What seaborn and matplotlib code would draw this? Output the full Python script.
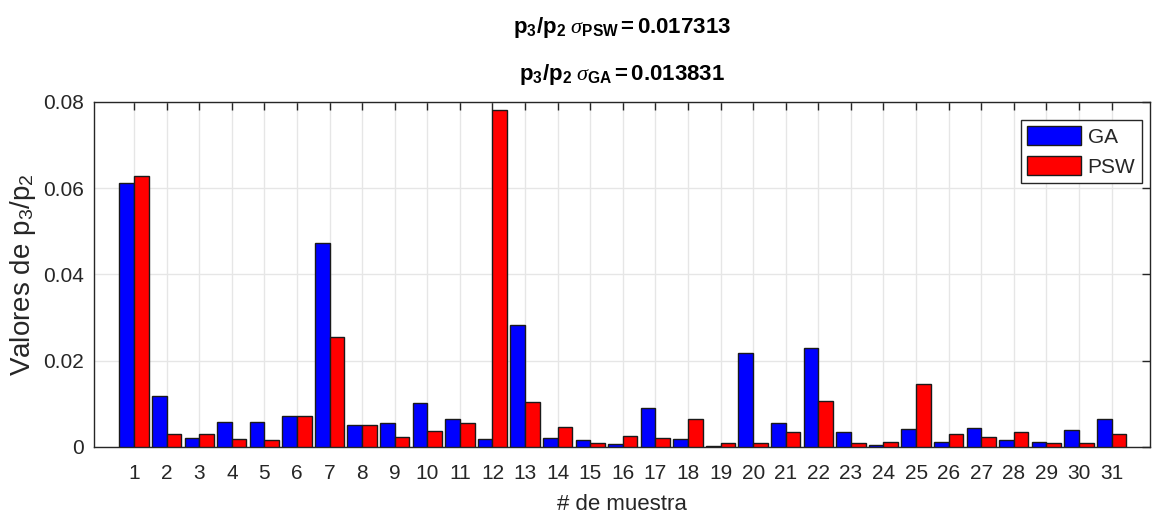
import numpy as np
import pandas as pd
import seaborn as sns
from matplotlib import pyplot as plt

# valores p3/p2
muestras = [str(i) for i in range(1, 32)]
ga_vals = [0.0612, 0.01175, 0.0021, 0.0059, 0.0059, 0.0071, 0.0473, 0.0050, 0.0056, 0.0102,
           0.0064, 0.0018, 0.0283, 0.0021, 0.00155, 0.0007, 0.0090, 0.0018, 0.0002, 0.0217,
           0.0056, 0.0230, 0.0034, 0.0005, 0.0042, 0.00125, 0.0045, 0.00155, 0.00125, 0.0039,
           0.0064]
psw_vals = [0.0629, 0.0029, 0.0029, 0.0018, 0.00155, 0.0071, 0.0254, 0.0050, 0.0023, 0.0037,
            0.0056, 0.0781, 0.0104, 0.0047, 0.0010, 0.0026, 0.0020, 0.0066, 0.0010, 0.0010,
            0.0034, 0.0106, 0.0010, 0.00125, 0.0147, 0.0031, 0.0023, 0.0034, 0.0010, 0.0010,
            0.0029]
metodos = ['GA', 'PSW']
ytick_vals = [0, 0.02, 0.04, 0.06, 0.08]
ytick_labels = ['0', '0.02', '0.04', '0.06', '0.08']
sigma_psw = '0.017313'
sigma_ga = '0.013831'

df = pd.DataFrame({
    'muestra': muestras * 2,
    'metodo': ['GA'] * len(ga_vals) + ['PSW'] * len(psw_vals),
    'valor': ga_vals + psw_vals,
})

sns.set_style('white')
plt.rcParams['font.family'] = ['Liberation Sans', 'DejaVu Sans']
plt.rcParams['mathtext.fontset'] = 'custom'
plt.rcParams['mathtext.rm'] = 'Liberation Sans'
plt.rcParams['mathtext.bf'] = 'Liberation Sans:bold'
plt.rcParams['mathtext.it'] = 'Liberation Serif:italic'

fig, ax = plt.subplots(figsize=(11.52, 5.2), dpi=100)
fig.subplots_adjust(left=0.0816, right=0.998, bottom=0.1404, top=0.8044)

sns.barplot(
    data=df, x='muestra', y='valor', hue='metodo', order=muestras, hue_order=metodos,
    palette={'GA': '#0000ff', 'PSW': '#ff0000'}, width=0.9, edgecolor='#1a1a1a',
    linewidth=1.0, saturation=1, errorbar=None, ax=ax, zorder=3,
)

ax.set_xlim(-1.23, 31.17)
ax.set_ylim(0, 0.08)
ax.set_yticks(ytick_vals)
ax.set_yticklabels(ytick_labels)
ax.grid(True, color='#e6e6e6', linewidth=1.0, zorder=0)
ax.set_axisbelow(True)
ax.tick_params(axis='both', direction='in', labelsize=15, colors='#262626',
               top=True, right=True, length=6, width=1)
ax.tick_params(axis='x', pad=12)
ax.tick_params(axis='y', pad=7)
for sp in ax.spines.values():
    sp.set_visible(True)
    sp.set_color('#262626')
    sp.set_linewidth(1.0)

ax.set_xlabel('# de muestra', fontsize=16, color='#262626')
ax.xaxis.set_label_coords(0.5, -0.136)
ax.set_ylabel(r'Valores de p$_\mathrm{3}$/p$_\mathrm{2}$', fontsize=20, color='#262626')
ax.yaxis.set_label_coords(-0.053, 0.5)

leg = ax.legend(loc='upper right', bbox_to_anchor=(0.9924, 0.947), borderaxespad=0,
                fontsize=15, fancybox=False, framealpha=1, edgecolor='#262626',
                handlelength=2.6, handleheight=1.0, borderpad=0.3, labelspacing=0.45,
                handletextpad=0.3, title=None)
leg.get_frame().set_linewidth(1.0)

fig.text(0.54, 1 - 33 / 520,
         r'$\mathbf{p_3/p_2}\ \sigma_{\mathbf{PSW}}\mathbf{=' + sigma_psw + '}$',
         ha='center', va='baseline', fontsize=16, color='black')
fig.text(0.54, 1 - 80 / 520,
         r'$\mathbf{p_3/p_2}\ \sigma_{\mathbf{GA}}\mathbf{=' + sigma_ga + '}$',
         ha='center', va='baseline', fontsize=16, color='black')

fig.savefig('out.png', dpi=100)
